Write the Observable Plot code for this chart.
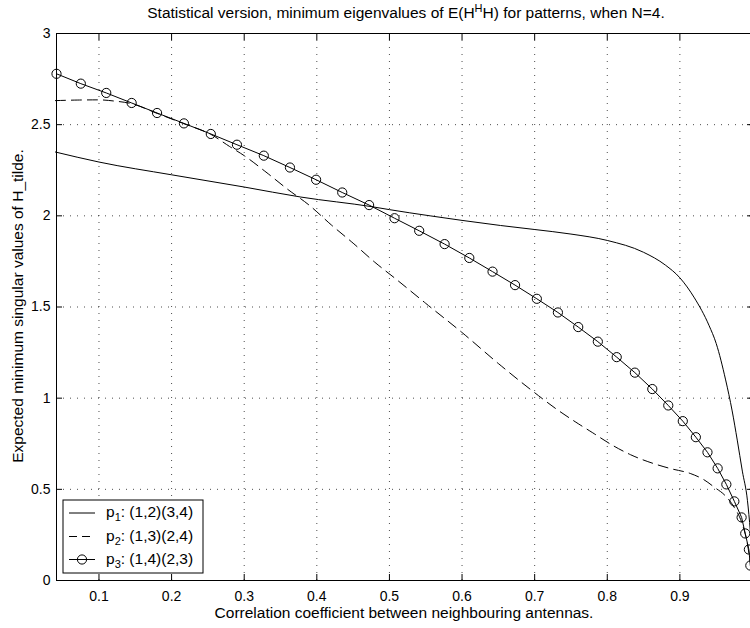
<!DOCTYPE html>
<html><head><meta charset="utf-8">
<script src="https://cdn.jsdelivr.net/npm/d3@7"></script>
<script src="https://cdn.jsdelivr.net/npm/@observablehq/plot@0.6"></script>
<style>body{margin:0;background:#fff}#chart{width:750px;height:628px;overflow:hidden}</style>
</head><body><div id="chart"></div>
<script>
// ---- data ----
const p1X = [0.04,0.1,0.2,0.3,0.378,0.476,0.5,0.556,0.6,0.653,0.7,0.75,0.8,0.85,0.88,0.9,0.92,0.94,0.95,0.963,0.972,0.979,0.986,0.993,0.997,1.0];
const p1Y = [2.35,2.295,2.225,2.158,2.103,2.05,2.034,2.0,1.975,1.947,1.925,1.90,1.865,1.80,1.73,1.66,1.55,1.40,1.30,1.10,0.93,0.77,0.60,0.44,0.27,0.10];

const p2X = [0.04,0.07,0.1,0.12,0.145,0.18,0.217,0.254,0.28,0.30,0.33,0.36,0.389,0.42,0.45,0.48,0.51,0.55,0.6,0.65,0.7,0.73,0.76,0.78,0.807,0.832,0.864,0.887,0.915,0.933,0.948,0.962,0.975,0.985,0.993,0.997];
const p2Y = [2.632,2.635,2.636,2.63,2.615,2.562,2.505,2.447,2.38,2.33,2.24,2.145,2.06,1.95,1.85,1.745,1.65,1.52,1.36,1.19,1.03,0.94,0.86,0.81,0.742,0.69,0.641,0.614,0.586,0.553,0.51,0.467,0.40,0.32,0.2,0.1];

const p3X = [0.0415,0.075,0.110,0.145,0.180,0.217,0.254,0.290,0.327,0.363,0.399,0.435,0.472,0.507,0.541,0.576,0.610,0.642,0.673,0.703,0.732,0.760,0.787,0.813,0.838,0.862,0.884,0.904,0.922,0.938,0.952,0.964,0.975,0.985,0.990,0.995,0.997];
const p3Y = [2.779,2.725,2.674,2.619,2.564,2.507,2.449,2.39,2.33,2.265,2.198,2.128,2.059,1.987,1.918,1.845,1.769,1.694,1.62,1.545,1.47,1.39,1.31,1.225,1.14,1.05,0.96,0.874,0.786,0.703,0.615,0.527,0.434,0.346,0.258,0.170,0.082];

const xTicks = [0.1,0.2,0.3,0.4,0.5,0.6,0.7,0.8,0.9];
const yTicks = [0,0.5,1,1.5,2,2.5,3];
const yGrid = [0.5,1,1.5,2,2.5];

const seriesNames = ["p1", "p2", "p3"];
const legendLabels = [["p","1",": (1,2)(3,4)"],["p","2",": (1,3)(2,4)"],["p","3",": (1,4)(2,3)"]];
const titleParts = ["Statistical version, minimum eigenvalues of E(H","H","H) for patterns, when N=4."];
const xLabel = "Correlation coefficient between neighbouring antennas.";
const yLabel = "Expected minimum singular values of H_tilde.";

const toRows = (xs, ys) => xs.map((x, i) => ({x, y: ys[i]}));
const p1 = toRows(p1X, p1Y), p2 = toRows(p2X, p2Y), p3 = toRows(p3X, p3Y);

const FONT = "'Liberation Sans', Arial, Helvetica, sans-serif";

const chart = Plot.plot({
  width: 750,
  height: 628,
  marginTop: 33,
  marginBottom: 48,
  marginLeft: 56,
  marginRight: -2,
  style: {fontFamily: FONT, fontSize: "14px", color: "#000", background: "#fff", overflow: "hidden"},
  x: {domain: [0.0415, 1.0], label: null},
  y: {domain: [0, 3], label: null},
  marks: [
    Plot.ruleX(xTicks, {stroke: "#000", strokeDasharray: "1,6", strokeOpacity: 0.7}),
    Plot.ruleY(yGrid, {stroke: "#000", strokeDasharray: "1,6", strokeOpacity: 0.7}),
    Plot.line(p1, {x: "x", y: "y", stroke: "#000", strokeWidth: 1, curve: "monotone-x"}),
    Plot.line(p2, {x: "x", y: "y", stroke: "#000", strokeWidth: 1, strokeDasharray: "10,6", curve: "monotone-x"}),
    Plot.line(p3, {x: "x", y: "y", stroke: "#000", strokeWidth: 1}),
    Plot.dot(p3, {x: "x", y: "y", r: 4.6, stroke: "#000", fill: "none", strokeWidth: 1}),
    Plot.frame({stroke: "#000", strokeWidth: 1}),
    Plot.axisX(xTicks, {anchor: "bottom", tickSize: -6, tickFormat: () => "", label: null}),
    Plot.axisX(xTicks, {anchor: "top", tickSize: -6, tickFormat: () => "", label: null}),
    Plot.axisY(yTicks, {anchor: "left", tickSize: -6, tickFormat: () => "", label: null}),
    Plot.axisY(yTicks, {anchor: "right", tickSize: -6, tickFormat: () => "", label: null}),
    Plot.axisX(xTicks, {anchor: "bottom", tickSize: 0, tickPadding: 11, label: null, fontSize: 14}),
    Plot.axisY(yTicks, {anchor: "left", tickSize: 0, tickPadding: 6, label: null, fontSize: 14, tickFormat: d => String(d)})
  ]
});
document.getElementById("chart").appendChild(chart);

// decorations: title, axis labels, legend
const svg = d3.select(chart);
const g = svg.append("g").attr("font-family", FONT).attr("font-size", 15.5).attr("fill", "#000");

const t = g.append("text").attr("x", 406).attr("y", 18).attr("text-anchor", "middle");
t.append("tspan").text(titleParts[0]);
t.append("tspan").attr("dy", -6).attr("font-size", 11).text(titleParts[1]);
t.append("tspan").attr("dy", 6).text(titleParts[2]);

g.append("text").attr("x", 404).attr("y", 618).attr("text-anchor", "middle").text(xLabel);
g.append("text").attr("transform", "translate(23,306) rotate(-90)").attr("text-anchor", "middle").text(yLabel);

const leg = g.append("g");
leg.append("rect").attr("x", 63).attr("y", 500).attr("width", 140).attr("height", 73)
  .attr("fill", "#fff").attr("stroke", "#000").attr("stroke-width", 1);
const rowsY = [513, 536.5, 559.5];
seriesNames.forEach((name, i) => {
  const yy = rowsY[i];
  const ln = leg.append("line").attr("x1", 69).attr("x2", 95).attr("y1", yy).attr("y2", yy)
    .attr("stroke", "#000").attr("stroke-width", 1);
  if (name === "p2") ln.attr("stroke-dasharray", "8,5");
  if (name === "p3") leg.append("circle").attr("cx", 82).attr("cy", yy).attr("r", 4.6)
    .attr("fill", "none").attr("stroke", "#000");
  const tx = leg.append("text").attr("x", 106).attr("y", yy + 4).attr("text-anchor", "start");
  tx.append("tspan").text(legendLabels[i][0]);
  tx.append("tspan").attr("dy", 4).attr("font-size", 11).text(legendLabels[i][1]);
  tx.append("tspan").attr("dy", -4).text(legendLabels[i][2]);
});
</script>
</body></html>
